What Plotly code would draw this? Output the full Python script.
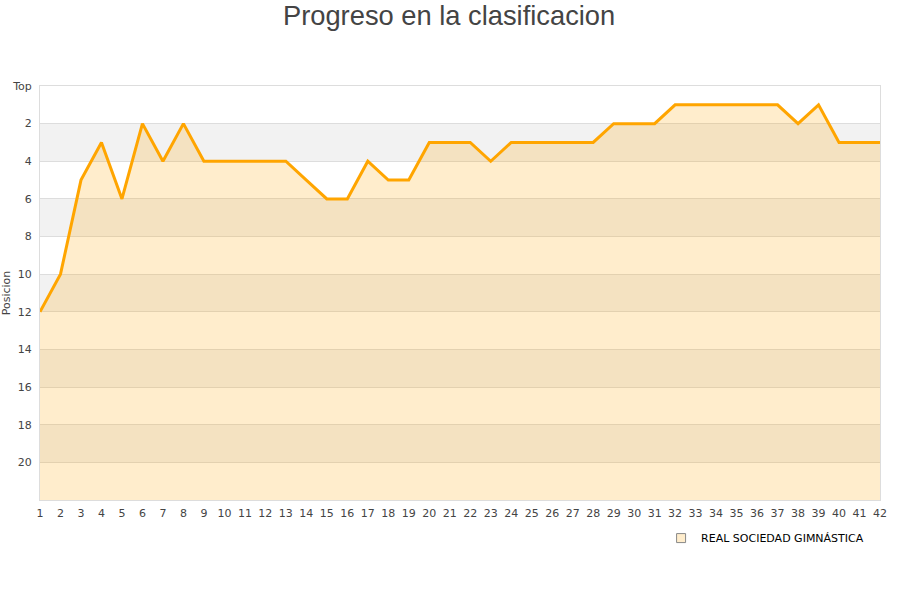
import plotly.graph_objects as go

jornadas = list(range(1, 43))
posiciones = [12, 10, 5, 3, 6, 2, 4, 2, 4, 4, 4, 4, 4, 5, 6, 6, 4, 5, 5, 3,
              3, 3, 4, 3, 3, 3, 3, 3, 2, 2, 2, 1, 1, 1, 1, 1, 1, 2, 1, 3,
              3, 3]
y_ticks = list(range(0, 21, 2))
y_labels = ["Top"] + [str(v) for v in range(2, 21, 2)]
team = "REAL SOCIEDAD GIMNÁSTICA"
bottom = 22

fig = go.Figure()
fig.add_trace(go.Scatter(x=jornadas, y=[bottom] * len(jornadas), mode="lines",
                         line=dict(width=0), showlegend=False, hoverinfo="skip"))
fig.add_trace(go.Scatter(x=jornadas, y=posiciones, mode="lines",
                         line=dict(color="#ffa500", width=3),
                         fill="tonexty", fillcolor="rgba(255,165,0,0.2)",
                         showlegend=False))
fig.add_trace(go.Scatter(x=[None], y=[None], mode="markers", name=team,
                         marker=dict(symbol="square", size=9, color="#ffedcc",
                                     line=dict(color="#888888", width=1))))

shapes = []
for y0 in range(2, 22, 4):
    shapes.append(dict(type="rect", xref="paper", yref="y", x0=0, x1=1,
                       y0=y0, y1=y0 + 2, fillcolor="#f2f2f2", line=dict(width=0),
                       layer="below"))

fig.update_layout(
    width=900, height=600,
    paper_bgcolor="white", plot_bgcolor="white",
    margin=dict(l=40, r=20, t=86, b=100),
    title=dict(text="Progreso en la clasificacion", x=0.499, xanchor="center",
               y=0.975, yanchor="middle",
               font=dict(family="Liberation Sans, Arial", size=27.3, color="#444444")),
    shapes=shapes,
    font=dict(family="DejaVu Sans", size=11, color="#444444"),
    legend=dict(orientation="h", x=0.987, xanchor="right", y=-0.092, yanchor="middle",
                font=dict(family="DejaVu Sans", size=11, color="#000000"),
                bgcolor="rgba(0,0,0,0)", itemwidth=30),
    showlegend=True,
)
fig.update_xaxes(range=[1, 42], tickmode="array", tickvals=jornadas,
                 ticktext=[str(j) for j in jornadas], showgrid=False,
                 showline=True, linecolor="#dddddd", linewidth=1, mirror=True,
                 zeroline=False, ticks="", ticklabelstandoff=3,
                 tickfont=dict(size=11, color="#444444"))
fig.update_yaxes(range=[bottom, 0], tickmode="array", tickvals=y_ticks,
                 ticktext=y_labels, showgrid=True, gridcolor="#dddddd", gridwidth=1,
                 showline=True, linecolor="#dddddd", linewidth=1, mirror=True,
                 zeroline=False, ticks="", ticklabelstandoff=5,
                 tickfont=dict(size=11, color="#444444"),
                 title=dict(text="Posicion", standoff=4, font=dict(size=11, color="#444444")),
                 automargin=False)

fig.write_html("out.html", config={"displayModeBar": False},
               post_script="document.body.style.margin='0';")
